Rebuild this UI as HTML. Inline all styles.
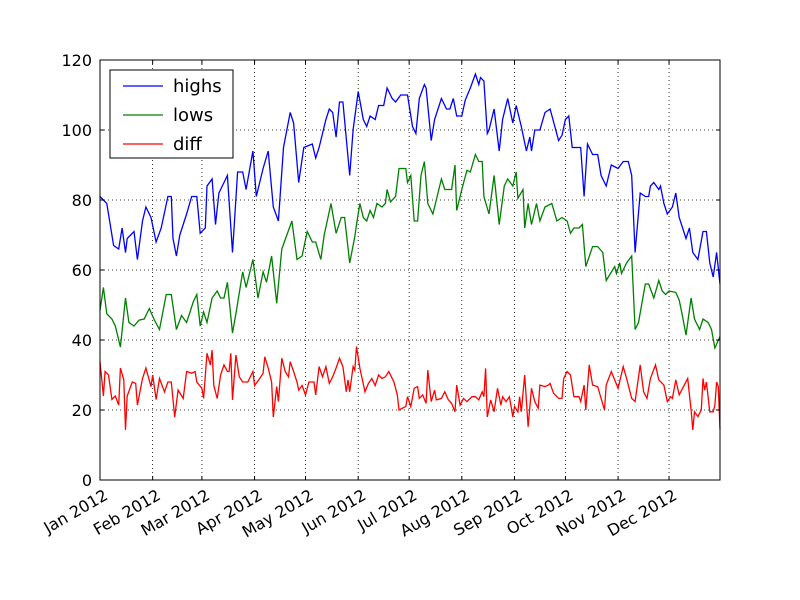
<!DOCTYPE html>
<html><head><meta charset="utf-8"><style>
body{margin:0;background:#fff}
svg{display:block;font-family:"DejaVu Sans","Liberation Sans",sans-serif}
</style></head><body>
<svg id="chart" width="800" height="600" xmlns="http://www.w3.org/2000/svg">
<rect width="800" height="600" fill="#fff"/>
<g id="grid"></g>
<g id="series"></g>
<g id="axes"></g>
<g>
<rect x="110" y="70" width="123" height="88" fill="#fff" stroke="#000" stroke-width="1"/>
<line x1="123" y1="86" x2="163" y2="86" stroke="#0000ff" stroke-width="1.3"/>
<text x="173" y="92" font-size="18">highs</text>
<line x1="123" y1="115" x2="163" y2="115" stroke="#008000" stroke-width="1.3"/>
<text x="173" y="121" font-size="18">lows</text>
<line x1="123" y1="144" x2="163" y2="144" stroke="#ff0000" stroke-width="1.3"/>
<text x="173" y="150" font-size="18">diff</text>
</g>
</svg>
<script>
const highDays=[0,4,6,8,11,13,15,16,20,22,25,27,30,33,36,40,42,43,45,47,51,54,57,59,62,63,66,68,70,73,75,78,81,84,86,90,92,96,99,102,105,108,112,114,117,120,125,127,129,131,133,135,137,139,141,143,147,149,152,155,157,159,162,164,167,169,172,174,177,181,184,186,188,191,192,195,197,201,204,206,208,210,213,215,218,221,223,224,226,228,229,232,235,237,240,243,245,248,251,253,254,256,259,262,265,270,272,274,276,278,283,285,287,290,293,295,298,301,305,308,311,313,315,318,321,323,324,326,329,330,332,334,337,339,341,345,347,349,352,355,357,359,361,363,365];
const highs=[81,79,73,67,66,72,65,69,71,63,74,78,75,68,72,81,81,69,64,70,76,81,81,70.5,72,84,86,73,82,85,87,65,88,88,83,94,81,89,94,78,74,95,105,102,85,95,96,92,95,99,103,106,105,98,108,108,87,100,111,103,101,104,103,107,107,112,109,108,110,110,101,99,109,113,112,97,103,109,106,106,109,104,104,108.5,112,116,113,115,114,99,100,106,94,103,109,102,107,101,94,98,94,100,100,105,106,97,98.5,103,104,95,95,81,96,93,93,87,84,90,89,91,91,87,65,82,81,81,84,85,83,84,79,76,78,82,75,69,72,65,63,71,71,62,58,65,56];
const lowDays=[0,2,4,7,9,12,15,17,20,23,26,29,32,35,39,42,45,48,51,55,57,59,61,63,66,69,71,73,75,78,80,84,86,90,93,96,98,101,104,107,113,116,119,122,125,127,130,132,136,139,142,144,147,150,151,153,155,157,159,161,163,166,168,169,171,174,176,180,181,183,185,187,189,191,193,196,199,201,203,207,209,210,213,216,218,221,223,225,226,229,232,235,238,240,243,245,246,249,250,252,254,257,259,262,266,269,272,275,277,279,282,284,286,290,293,296,298,303,304,306,307,310,313,315,317,321,323,326,329,331,333,335,339,341,343,345,348,350,353,355,358,360,362,365];
const lows=[48.5,55,47.5,46,44,38,52,45,44,45.7,46,49,45.7,43,53,53,43,47,45,51,53,44,48,45,52,54,52,52,56.5,42,47.5,59.5,55,63,52,59.5,56.5,64,50.5,66,74,63,64,71,68,68,63,70,79,70.5,75,75,62,69.5,73,79,75,74,77,75,79,78,79,83,79.5,81,89,89,85,87,74,74,87,91,79,76,82,86,83,83,90,77,83,88.5,88,93,91,91,81,76,87,73,84,86,84,88,80.5,83,72,79,73,79,74,78,79,74,75,74,70.5,72,72,73,61,66.7,66.7,65,57,61,59,62,59,62,64,43,45,56,56,52,57,54,53,54,53.6,51.4,46.7,41.4,52,46,43,46,45,43,37.7,41];
const diffDays=[0,2,3,5,7,9,11,12,14,15,16,19,21,22,25,27,30,31,33,35,38,40,42,44,46,49,51,54,56,57,60,61,63,65,66,67,69,71,73,75,76,77,78,80,82,84,87,90,91,94,96,97,99,101,102,104,105,107,109,111,112,114,116,117,119,121,123,126,127,129,131,133,135,137,139,141,143,145,146,147,149,150,151,153,156,158,160,162,164,166,168,170,173,175,176,180,181,183,185,187,188,190,192,193,195,197,198,201,203,205,207,209,210,212,214,216,219,221,223,225,226,227,228,230,232,234,236,237,239,241,243,244,246,247,248,250,252,254,256,258,259,262,264,265,267,270,272,273,275,277,279,282,283,285,286,288,290,293,295,297,298,301,303,305,308,310,313,315,318,320,322,324,327,329,332,334,336,337,339,341,343,346,348,349,350,352,354,355,356,357,359,361,362,363,364,365];
const diffs=[33.8,24,31,30,23,24,21.4,32,28.6,14.3,24,28,27.6,21.4,29,32,26.7,30,23,29,25.2,28,28,18,25.7,23.3,31,30.5,31,28,26.2,23.3,36.2,32.9,37.1,27,23.3,30,32.9,31,31,36.2,22.9,35.7,29.5,28,28,31,27,29,30.5,35.2,32,28,18,26.7,22.4,34.8,31,29.5,33.8,31,28,25.7,27,24.3,28,28,24.3,32.4,29.5,32.4,27.6,29.5,32,34.8,32.4,25.2,28.6,25.2,32.4,31.4,38.1,31.9,25.2,27.6,29,27,30,29,29.5,31,28,24.3,20,21,23.8,21,26.2,26.7,23.3,24.3,21.9,31.4,22.4,25.7,22.9,23.3,25.2,23,21.9,19.5,27.1,21.4,23.3,22.4,23.8,23.8,22.9,25.2,23.8,31.9,18,22.9,19.5,26.2,21.4,23.8,22.4,23.8,18,21,19.5,23.8,19.5,30,15.2,26.2,22.4,20.5,27.1,26.7,27.1,27.6,24.8,23.3,23.3,29,31,30,23.8,23.8,22.4,27.1,20,32.9,27.1,26.7,23.3,20,27.1,31,28.6,26.2,32.4,29,23.3,22.4,32.9,25.2,23.3,29,32.9,28.6,27.1,22.4,23.8,23.3,28.6,24.3,26.2,29,20,14.3,19.5,18.1,20,29,25.7,28,19.5,19.5,21.4,28,26.7,14.5];
const yTicks=[0,20,40,60,80,100,120];
const monthDays=[0,31,60,91,121,152,182,213,244,274,305,335];
const monthLabels=["Jan 2012","Feb 2012","Mar 2012","Apr 2012","May 2012","Jun 2012","Jul 2012","Aug 2012","Sep 2012","Oct 2012","Nov 2012","Dec 2012"];

const L=100,R=720,T=60,B=480;
const xs=d=>L+d*(R-L)/365;
const ys=v=>B-v*(B-T)/120;
const NS="http://www.w3.org/2000/svg";
function mk(tag,attrs,parent){const e=document.createElementNS(NS,tag);for(const k in attrs)e.setAttribute(k,attrs[k]);parent.appendChild(e);return e;}
const grid=document.getElementById('grid'),axes=document.getElementById('axes'),ser=document.getElementById('series');

yTicks.forEach(v=>{
  const y=ys(v);
  if(v>0&&v<120){const g=mk('line',{x1:L,x2:R,y1:y,y2:y,stroke:'#000','stroke-width':0.8,'stroke-dasharray':'1,3'},grid);
  
  }
  const t1=mk('line',{x1:L,x2:L+4,y1:y,y2:y,stroke:'#000'},axes);
  
  
  const t2=mk('line',{x1:R-4,x2:R,y1:y,y2:y,stroke:'#000'},axes);
  
  
  const tx=mk('text',{x:L-8,y:y+6,'text-anchor':'end','font-size':16},axes);
  tx.textContent=v;
  
  
});
monthDays.forEach((d,i)=>{
  const x=xs(d);
  if(d>0){const g=mk('line',{x1:x,x2:x,y1:T,y2:B,stroke:'#000','stroke-width':0.8,'stroke-dasharray':'1,3'},grid);
  
  }
  const t1=mk('line',{x1:x,x2:x,y1:B,y2:B-4,stroke:'#000'},axes);
  
  
  const t2=mk('line',{x1:x,x2:x,y1:T,y2:T+4,stroke:'#000'},axes);
  
  
  const tx=mk('text',{x:0,y:12,'text-anchor':'end','font-size':16,transform:`translate(${x+3},${B+8}) rotate(-30)`},axes);
  tx.textContent=monthLabels[i];
  
  
});
const frame=mk('rect',{x:L,y:T,width:R-L,height:B-T,fill:'none',stroke:'#000','stroke-width':1},axes);



function line(days,vals,color,name){
  const pts=days.map((d,i)=>xs(d).toFixed(1)+','+ys(vals[i]).toFixed(1)).join(' ');
  const p=mk('polyline',{points:pts,fill:'none',stroke:color,'stroke-width':1.3},ser);
  
  
}
line(highDays,highs,'#0000ff','highs-line');
line(lowDays,lows,'#008000','lows-line');
line(diffDays,diffs,'#ff0000','diff-line');
</script>
</body></html>
